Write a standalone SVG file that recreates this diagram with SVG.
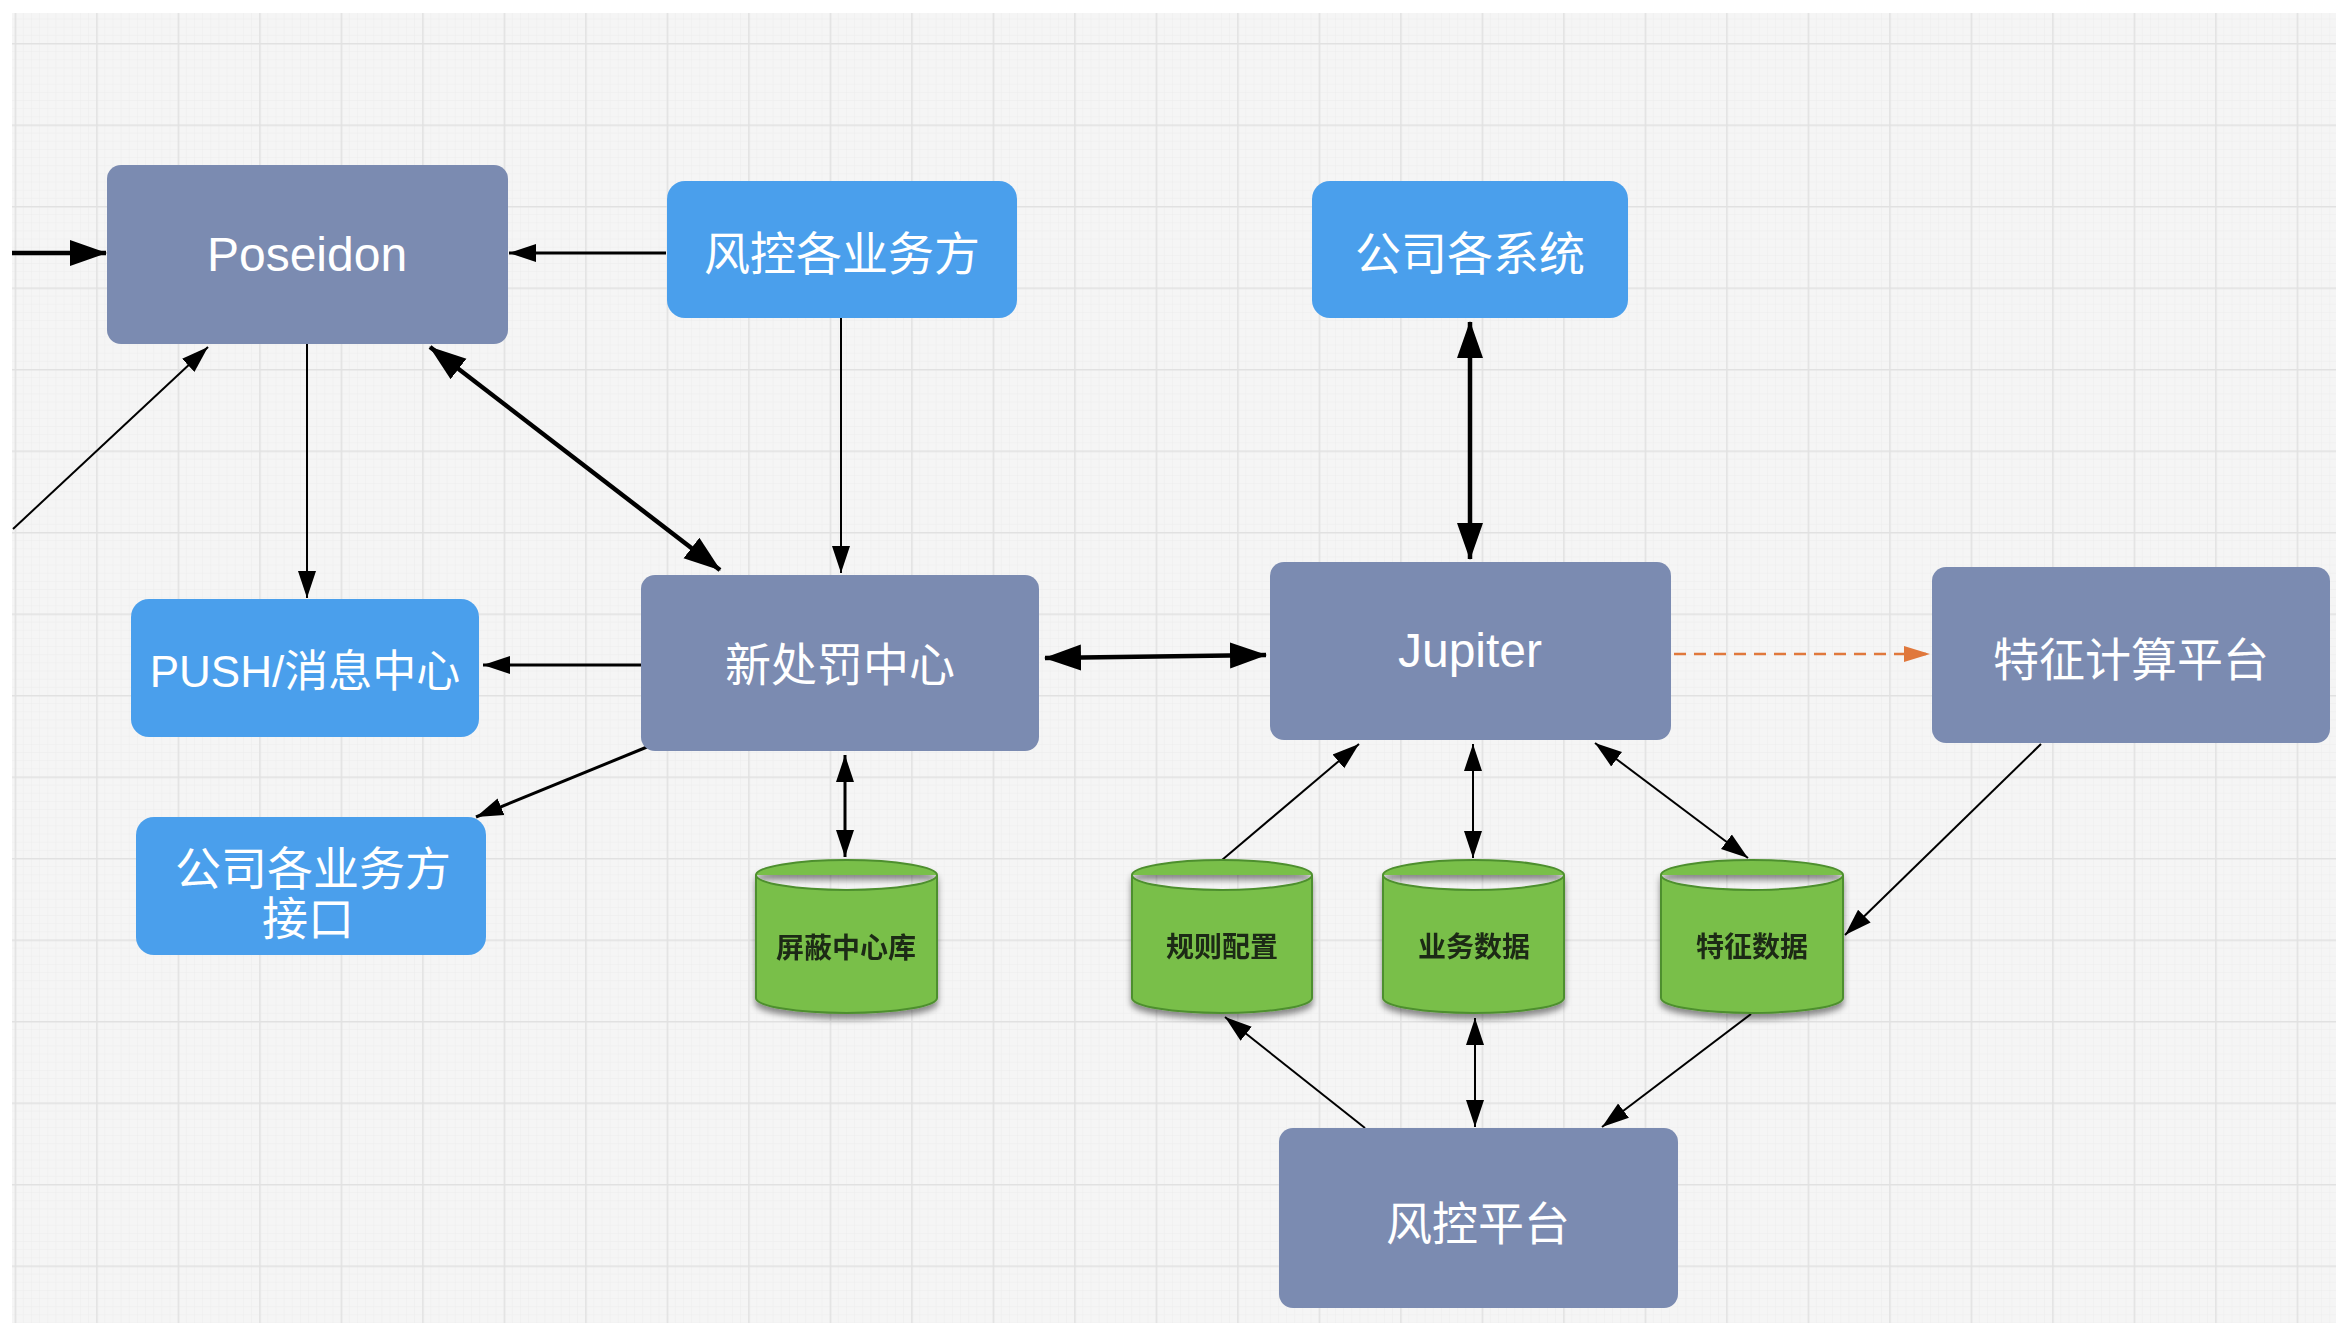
<svg xmlns="http://www.w3.org/2000/svg" width="2336" height="1323" viewBox="0 0 2336 1323">
<defs>
<pattern id="minor" patternUnits="userSpaceOnUse" x="14.7" y="43" width="8.15" height="8.15">
<path d="M0,0 V8.15 M0,0 H8.15" fill="none" stroke="#ebebeb" stroke-width="0.8"/>
</pattern>
<pattern id="major" patternUnits="userSpaceOnUse" x="14.7" y="43" width="81.5" height="81.5">
<path d="M0.75,0 V81.5 M0,0.75 H81.5" fill="none" stroke="#e1e1e1" stroke-width="1.5"/>
</pattern>
<marker id="aL" markerUnits="userSpaceOnUse" markerWidth="38" markerHeight="28" refX="36" refY="14" orient="auto-start-reverse">
<path d="M0,1 L37,14 L0,27 Z" fill="#000"/>
</marker>
<marker id="aM" markerUnits="userSpaceOnUse" markerWidth="28" markerHeight="20" refX="27" refY="10" orient="auto-start-reverse">
<path d="M0,1 L27,10 L0,19 Z" fill="#000"/>
</marker>
<marker id="aO" markerUnits="userSpaceOnUse" markerWidth="28" markerHeight="20" refX="26" refY="10" orient="auto">
<path d="M0,2 L26,10 L0,18 Z" fill="#e0783c"/>
</marker>
<filter id="shd" x="-20%" y="-20%" width="140%" height="150%">
<feGaussianBlur in="SourceAlpha" stdDeviation="3"/>
<feOffset dx="0" dy="5" result="b"/>
<feComponentTransfer><feFuncA type="linear" slope="0.45"/></feComponentTransfer>
<feMerge><feMergeNode/><feMergeNode in="SourceGraphic"/></feMerge>
</filter>
</defs>
<style>
.slate{fill:#7b8bb1}
.blue{fill:#4a9fec}
.lbl{fill:#fff;font-family:"Liberation Sans","Noto Sans CJK SC",sans-serif;font-size:46px;text-anchor:middle}
.lat{fill:#fff;font-family:"Liberation Sans",sans-serif;font-size:48px;text-anchor:middle}
.cyl{fill:#79bf4a;stroke:#4e8f2e;stroke-width:2}
.ctx{fill:#1d2a12;font-family:"Noto Sans CJK SC",sans-serif;font-size:28px;font-weight:700;text-anchor:middle}
.c{fill:none;stroke:#000}
.t2{stroke-width:2}
.t3{stroke-width:3}
.t4{stroke-width:4.5}
</style>
<rect width="2336" height="1323" fill="#ffffff"/>
<rect x="12" y="13" width="2324" height="1310" fill="#f5f5f5"/>
<rect x="12" y="13" width="2324" height="1310" fill="url(#minor)"/>
<rect x="12" y="13" width="2324" height="1310" fill="url(#major)"/>

<g id="connectors">
<line class="c t4" x1="12" y1="253" x2="106" y2="253" marker-end="url(#aL)"/>
<line class="c t2" x1="13" y1="529" x2="208" y2="347" marker-end="url(#aM)"/>
<line class="c t3" x1="666" y1="253" x2="509" y2="253" marker-end="url(#aM)"/>
<line class="c t4" x1="430" y1="347" x2="720" y2="570" marker-start="url(#aL)" marker-end="url(#aL)"/>
<line class="c t2" x1="307" y1="344" x2="307" y2="598" marker-end="url(#aM)"/>
<line class="c t2" x1="841" y1="317" x2="841" y2="573" marker-end="url(#aM)"/>
<line class="c t3" x1="641" y1="665" x2="483" y2="665" marker-end="url(#aM)"/>
<line class="c t3" x1="647" y1="747" x2="476" y2="817" marker-end="url(#aM)"/>
<line class="c t3" x1="845" y1="755" x2="845" y2="857" marker-start="url(#aM)" marker-end="url(#aM)"/>
<line class="c t4" x1="1045" y1="658" x2="1266" y2="655" marker-start="url(#aL)" marker-end="url(#aL)"/>
<line class="c t4" x1="1470" y1="322" x2="1470" y2="559" marker-start="url(#aL)" marker-end="url(#aL)"/>
<line x1="1674" y1="654" x2="1930" y2="654" fill="none" stroke="#e0783c" stroke-width="2.5" stroke-dasharray="12 8" marker-end="url(#aO)"/>
<line class="c t2" x1="1222" y1="860" x2="1359" y2="744" marker-end="url(#aM)"/>
<line class="c t2" x1="1473" y1="744" x2="1473" y2="858" marker-start="url(#aM)" marker-end="url(#aM)"/>
<line class="c t2" x1="1595" y1="743" x2="1748" y2="858" marker-start="url(#aM)" marker-end="url(#aM)"/>
<line class="c t2" x1="2041" y1="744" x2="1845" y2="935" marker-end="url(#aM)"/>
<line class="c t2" x1="1365" y1="1128" x2="1225" y2="1017" marker-end="url(#aM)"/>
<line class="c t2" x1="1475" y1="1018" x2="1475" y2="1127" marker-start="url(#aM)" marker-end="url(#aM)"/>
<line class="c t2" x1="1751" y1="1014" x2="1602" y2="1127" marker-end="url(#aM)"/>
</g>

<g id="poseidon"><rect class="slate" x="107" y="165" width="401" height="179" rx="14"/><text class="lat" x="307" y="271">Poseidon</text></g>
<g id="fengkong-yewufang"><rect class="blue" x="667" y="181" width="350" height="137" rx="18"/><text class="lbl" x="842" y="270">风控各业务方</text></g>
<g id="gongsi-xitong"><rect class="blue" x="1312" y="181" width="316" height="137" rx="18"/><text class="lbl" x="1470" y="270">公司各系统</text></g>
<g id="chufa-zhongxin"><rect class="slate" x="641" y="575" width="398" height="176" rx="14"/><text class="lbl" x="840" y="681">新处罚中心</text></g>
<g id="jupiter"><rect class="slate" x="1270" y="562" width="401" height="178" rx="14"/><text class="lat" x="1470" y="667">Jupiter</text></g>
<g id="tezheng-pingtai"><rect class="slate" x="1932" y="567" width="398" height="176" rx="14"/><text class="lbl" x="2131" y="676">特征计算平台</text></g>
<g id="push"><rect class="blue" x="131" y="599" width="348" height="138" rx="18"/><text class="lbl" x="305" y="687" style="font-size:44px">PUSH/消息中心</text></g>
<g id="gongsi-jiekou"><rect class="blue" x="136" y="817" width="350" height="138" rx="18"/><text class="lbl" x="313" y="885">公司各业务方</text><text class="lbl" x="308" y="935">接口</text></g>
<g id="fengkong-pingtai"><rect class="slate" x="1279" y="1128" width="399" height="180" rx="14"/><text class="lbl" x="1478" y="1240">风控平台</text></g>

<g id="pingbi-ku" filter="url(#shd)"><path class="cyl" d="M756,875 A90.5,15 0 0 1 937,875 V998 A90.5,15 0 0 1 756,998 Z M756,875 A90.5,15 0 0 0 937,875"/><text class="ctx" x="846" y="958">屏蔽中心库</text></g>
<g id="guize-peizhi" filter="url(#shd)"><path class="cyl" d="M1132,875 A90,15 0 0 1 1312,875 V998 A90,15 0 0 1 1132,998 Z M1132,875 A90,15 0 0 0 1312,875"/><text class="ctx" x="1222" y="957">规则配置</text></g>
<g id="yewu-shuju" filter="url(#shd)"><path class="cyl" d="M1383,875 A90.5,15 0 0 1 1564,875 V998 A90.5,15 0 0 1 1383,998 Z M1383,875 A90.5,15 0 0 0 1564,875"/><text class="ctx" x="1474" y="957">业务数据</text></g>
<g id="tezheng-shuju" filter="url(#shd)"><path class="cyl" d="M1661,875 A91,15 0 0 1 1843,875 V998 A91,15 0 0 1 1661,998 Z M1661,875 A91,15 0 0 0 1843,875"/><text class="ctx" x="1752" y="957">特征数据</text></g>
</svg>
